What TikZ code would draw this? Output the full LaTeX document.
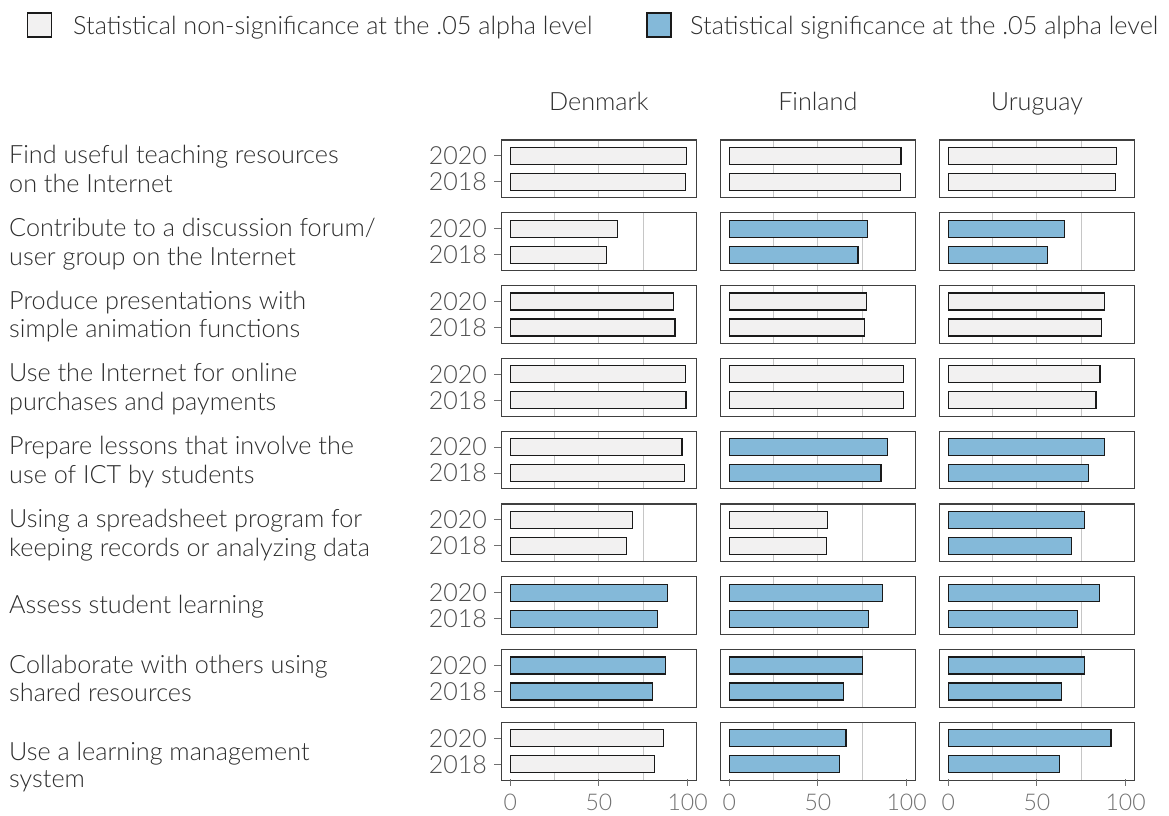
\documentclass[tikz,border=0pt]{standalone}
\usepackage{fontspec}
\IfFontExistsTF{Lato Light}{\setmainfont{Lato Light}}{\setmainfont{Lato}}
\definecolor{sigblue}{HTML}{84B9D9}
\definecolor{nsgray}{HTML}{F2F1F1}
\definecolor{gridgray}{HTML}{C6C6C6}
\definecolor{panelgray}{HTML}{404040}
\definecolor{barline}{HTML}{1A1A1A}
\definecolor{labgray}{HTML}{2E2E2E}
\definecolor{yeargray}{HTML}{4D4D4D}
\definecolor{tickgray}{HTML}{707070}
\tikzset{
  gridl/.style={draw=gridgray, line width=1pt},
  barbox/.style={draw=barline, line width=1.2pt},
  panelbox/.style={draw=panelgray, line width=1.1pt},
  tickm/.style={draw=tickgray, line width=1pt},
  rowlab/.style={anchor=base west, inner sep=0pt, text=labgray, font=\fontsize{25.2}{29}\selectfont},
  yearlab/.style={anchor=east, inner sep=0pt, text=yeargray, font=\fontsize{25}{30}\selectfont},
  ticklab/.style={anchor=base, inner sep=0pt, text=tickgray, font=\fontsize{23}{26}\selectfont},
  headlab/.style={anchor=base, inner sep=0pt, text=labgray, font=\fontsize{25.2}{29}\selectfont},
  leglab/.style={anchor=base west, inner sep=0pt, text=labgray, font=\fontsize{25.2}{29}\selectfont},
  legbox/.style={draw=barline, line width=1.1pt},
}
% #1 country index, #2 panel top, #3 value 2020, #4 value 2018, #5 significance
\newcommand{\mypanel}[5]{%
  \pgfmathsetmacro\pL{501.3+219*#1}%
  \pgfmathsetmacro\pZ{510.3+219*#1}%
  \pgfmathsetmacro\pT{#2}%
  \foreach \g in {25,50,75}{\draw[gridl] ({\pZ+1.773*\g},\pT) -- ++(0,57.7);}
  \ifnum#5=1 \def\fc{sigblue}\else\def\fc{nsgray}\fi
  \draw[barbox,fill=\fc] (\pZ,\pT+7.3) rectangle ({\pZ+1.773*#3},\pT+24.3);
  \draw[barbox,fill=\fc] (\pZ,\pT+33.3) rectangle ({\pZ+1.773*#4},\pT+50.3);
  \draw[panelbox] (\pL,\pT) rectangle ++(195,57.7);
}
\begin{document}
\begin{tikzpicture}[x=1pt,y=-1pt]
\useasboundingbox (0,0) rectangle (1169,815);
\fill[white] (0,0) rectangle (1169,815);

% legend
\draw[legbox,fill=nsgray] (27.5,13) rectangle (51.5,37);
\node[leglab] (leg1) at (73,34) {Statistical non-significance at the .05 alpha level};
\draw[legbox,fill=sigblue] (647,13) rectangle (671,37);
\node[leglab] (leg2) at (690,34) {Statistical significance at the .05 alpha level};

% headers
\node[headlab] (hDK) at (598.8,110) {Denmark};
\node[headlab] (hFI) at (817.8,110) {Finland};
\node[headlab] (hUY) at (1036.8,110) {Uruguay};

% panels
\foreach \r/\a/\b/\sa/\c/\d/\sb/\e/\f/\sc in {
  0/99.2/98.9/0/96.8/96.6/0/94.9/94.4/0,
  1/60.6/54.2/0/78.0/72.6/1/65.4/56.0/1,
  2/92.1/92.9/0/77.3/76.3/0/88.2/86.3/0,
  3/98.9/99.1/0/98.1/98.1/0/85.5/83.3/0,
  4/96.8/98.3/0/89.3/85.5/1/88.0/79.1/1,
  5/69.0/65.6/0/55.5/54.9/0/76.9/69.5/1,
  6/88.7/83.1/1/86.3/78.4/1/85.2/72.7/1,
  7/87.4/80.3/1/75.0/64.5/1/76.7/63.7/1,
  8/86.3/81.2/0/65.8/62.2/1/91.7/62.6/1}{
  \pgfmathsetmacro\T{140+72.8*\r}
  \mypanel{0}{\T}{\a}{\b}{\sa}
  \mypanel{1}{\T}{\c}{\d}{\sb}
  \mypanel{2}{\T}{\e}{\f}{\sc}
  \node[yearlab] (ya\r) at (487,\T+15.8) {2020};
  \node[yearlab] (yb\r) at (487,\T+41.8) {2018};
  \draw[tickm] (494,\T+15.8) -- (501.3,\T+15.8);
  \draw[tickm] (494,\T+41.8) -- (501.3,\T+41.8);
}

% bottom axis
\foreach \cc in {0,1,2}{
  \foreach \v in {0,50,100}{
    \pgfmathsetmacro\xx{510.3+219*\cc+1.773*\v}
    \draw[tickm] (\xx,779.1) -- (\xx,785.5);
    \node[ticklab] (t\cc-\v) at (\xx,810) {\v};
  }
}

% row labels
\node[rowlab] (l0a) at (9,163.5) {Find useful teaching resources};
\node[rowlab] (l0b) at (9,192.3) {on the Internet};
\node[rowlab] (l1a) at (9,236.3) {Contribute to a discussion forum/};
\node[rowlab] (l1b) at (9,265.1) {user group on the Internet};
\node[rowlab] (l2a) at (9,309.1) {Produce presentations with};
\node[rowlab] (l2b) at (9,337.9) {simple animation functions};
\node[rowlab] (l3a) at (9,381.9) {Use the Internet for online};
\node[rowlab] (l3b) at (9,410.7) {purchases and payments};
\node[rowlab] (l4a) at (9,454.7) {Prepare lessons that involve the};
\node[rowlab] (l4b) at (9,483.5) {use of ICT by students};
\node[rowlab] (l5a) at (9,527.5) {Using a spreadsheet program for};
\node[rowlab] (l5b) at (9,556.3) {keeping records or analyzing data};
\node[rowlab] (l6a) at (9,613.3) {Assess student learning};
\node[rowlab] (l7a) at (9,673.1) {Collaborate with others using};
\node[rowlab] (l7b) at (9,701.9) {shared resources};
\node[rowlab] (l8a) at (9,760.0) {Use a learning management};
\node[rowlab] (l8b) at (9,787.0) {system};
\end{tikzpicture}
\end{document}
